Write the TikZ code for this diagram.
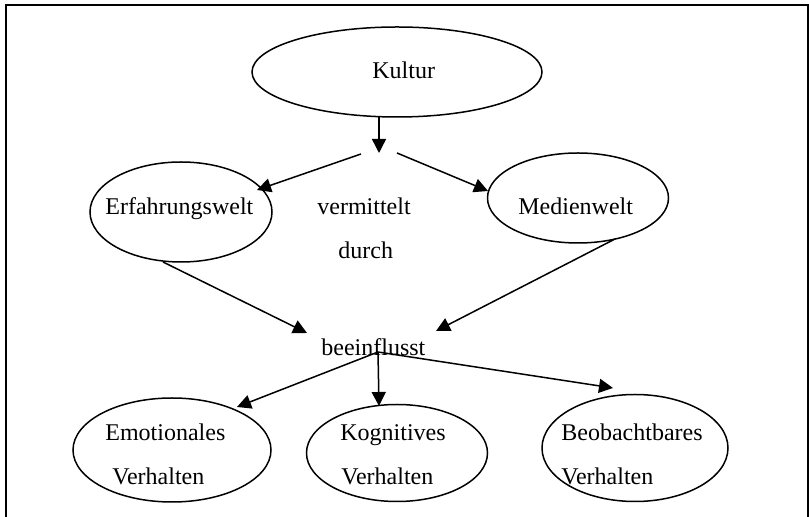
\documentclass[tikz,border=0pt]{standalone}
\usepackage{fontspec}
\setmainfont{Liberation Serif}
\usetikzlibrary{shapes.geometric,arrows.meta}
\begin{document}
\begin{tikzpicture}[x=0.5pt,y=-0.5pt,
  oval/.style={ellipse,draw,line width=0.75pt,inner sep=0pt},
  lbl/.style={anchor=base west,inner sep=0pt,font=\fontsize{12}{14}\selectfont},
  flow/.style={line width=0.75pt,-{Triangle[length=7pt,width=7pt]}}]
\useasboundingbox (0,0) rectangle (809,517);
% open frame: left, top and right edges
\draw[line width=1pt] (6,517) -- (6,5) -- (807.5,5) -- (807.5,517);

% ovals
\node[oval,minimum width=145pt,minimum height=45pt] (kultur) at (397,72) {};
\node[oval,minimum width=91pt,minimum height=50pt] (erf) at (181,212) {};
\node[oval,minimum width=90.5pt,minimum height=45pt] (medien) at (578,198) {};
\node[oval,minimum width=99pt,minimum height=52pt] (emo) at (172,450) {};
\node[oval,minimum width=90.5pt,minimum height=48.5pt] (kog) at (397,453) {};
\node[oval,minimum width=93pt,minimum height=53.5pt] (beo) at (635,448) {};

% texts
\node[lbl] (tkultur) at (372,79) {Kultur};
\node[lbl] (terf) at (105,215) {Erfahrungswelt};
\node[lbl] (tverm) at (317,215) {vermittelt};
\node[lbl] (tdurch) at (338,259) {durch};
\node[lbl] (tmedien) at (518,215) {Medienwelt};
\node[lbl] (tbeein) at (321,356) {beeinflusst};
\node[lbl] (temo1) at (105,441) {Emotionales};
\node[lbl] (temo2) at (112,485) {Verhalten};
\node[lbl] (tkog1) at (340,441) {Kognitives};
\node[lbl] (tkog2) at (341,485) {Verhalten};
\node[lbl] (tbeo1) at (561,441) {Beobachtbares};
\node[lbl] (tbeo2) at (561,485) {Verhalten};

% connector ends
\coordinate (k0) at (379,117);
\coordinate (k1) at (379,153);
\coordinate (s1) at (361,154);
\coordinate (s2) at (397,153);
\coordinate (e1) at (257,190);
\coordinate (m1) at (488,191);
\coordinate (e0) at (163,262);
\coordinate (m0) at (615,239);
\coordinate (b1) at (307,333);
\coordinate (b2) at (436,331);
\coordinate (b0) at (378,352);
\coordinate (o1) at (237,407);
\coordinate (o2) at (379,406);
\coordinate (o3) at (613,388);

% connectors
\draw[flow] (k0) -- (k1);
\draw[flow] (s1) -- (e1);
\draw[flow] (s2) -- (m1);
\draw[flow] (e0) -- (b1);
\draw[flow] (m0) -- (b2);
\draw[flow] (b0) -- (o1);
\draw[flow] (b0) -- (o2);
\draw[flow] (b0) -- (o3);
\end{tikzpicture}
\end{document}
